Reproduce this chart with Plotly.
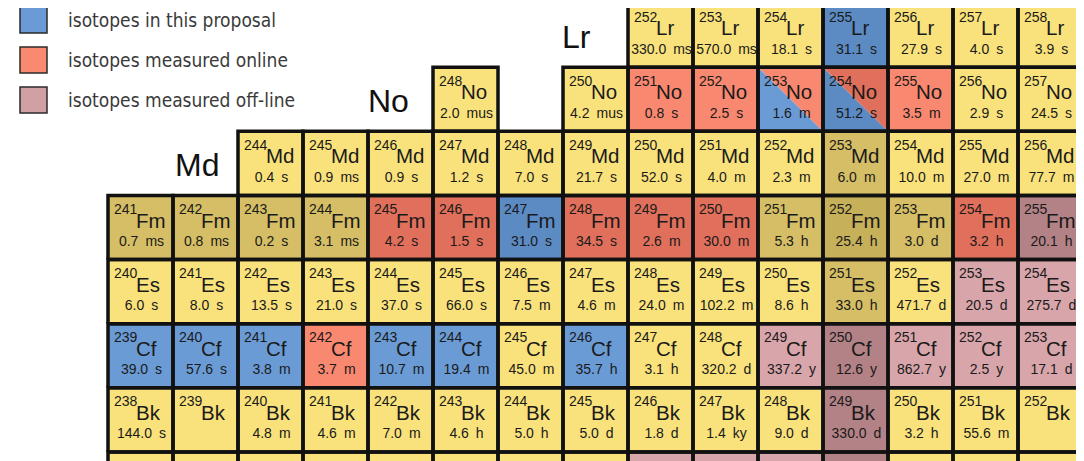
import plotly.graph_objects as go

# chart of nuclides: column = neutron number N, row = proton number Z
# kinds: known, known_dark, proposal, proposal_dark, online, online_dark,
#        offline, offline_dark, and "a/b" for split cells
lr_z = 103
lr_mass = [252, 253, 254, 255, 256, 257, 258]
lr_half = ["330.0 ms", "570.0 ms", "18.1 s", "31.1 s", "27.9 s", "4.0 s", "3.9 s"]
lr_kind = ["known", "known", "known", "proposal_dark", "known", "known", "known"]

no_z = 102
no_mass = [248, 250, 251, 252, 253, 254, 255, 256, 257]
no_half = ["2.0 mus", "4.2 mus", "0.8 s", "2.5 s", "1.6 m", "51.2 s", "3.5 m", "2.9 s", "24.5 s"]
no_kind = ["known", "known", "online", "online", "proposal/online",
           "proposal_dark/online_dark", "online", "known", "known"]

md_z = 101
md_mass = list(range(244, 257))
md_half = ["0.4 s", "0.9 ms", "0.9 s", "1.2 s", "7.0 s", "21.7 s", "52.0 s",
           "4.0 m", "2.3 m", "6.0 m", "10.0 m", "27.0 m", "77.7 m"]
md_kind = ["known"] * 9 + ["known_dark"] + ["known"] * 3

fm_z = 100
fm_mass = list(range(241, 256))
fm_half = ["0.7 ms", "0.8 ms", "0.2 s", "3.1 ms", "4.2 s", "1.5 s", "31.0 s", "34.5 s",
           "2.6 m", "30.0 m", "5.3 h", "25.4 h", "3.0 d", "3.2 h", "20.1 h"]
fm_kind = ["known_dark"] * 4 + ["online_dark"] * 2 + ["proposal_dark"] + ["online_dark"] * 3 \
    + ["known_dark", "known_darker", "known_dark", "online_dark", "offline_dark"]

es_z = 99
es_mass = list(range(240, 255))
es_half = ["6.0 s", "8.0 s", "13.5 s", "21.0 s", "37.0 s", "66.0 s", "7.5 m", "4.6 m",
           "24.0 m", "102.2 m", "8.6 h", "33.0 h", "471.7 d", "20.5 d", "275.7 d"]
es_kind = ["known"] * 11 + ["known_dark", "known", "offline", "offline"]

cf_z = 98
cf_mass = list(range(239, 254))
cf_half = ["39.0 s", "57.6 s", "3.8 m", "3.7 m", "10.7 m", "19.4 m", "45.0 m", "35.7 h",
           "3.1 h", "320.2 d", "337.2 y", "12.6 y", "862.7 y", "2.5 y", "17.1 d"]
cf_kind = ["proposal"] * 3 + ["online"] + ["proposal"] * 2 + ["known", "proposal"] \
    + ["known"] * 2 + ["offline", "offline_dark", "offline", "offline", "offline"]

bk_z = 97
bk_mass = list(range(238, 253))
bk_half = ["144.0 s", "", "4.8 m", "4.6 m", "7.0 m", "4.6 h", "5.0 h", "5.0 d",
           "1.8 d", "1.4 ky", "9.0 d", "330.0 d", "3.2 h", "55.6 m", ""]
bk_kind = ["known"] * 11 + ["offline_dark"] + ["known"] * 3

# only the top edge of the Cm row is visible, so no labels for it
cm_z = 96
cm_mass = list(range(237, 252))
cm_half = [""] * 15
cm_kind = ["known"] * 8 + ["offline"] * 3 + ["offline_dark"] + ["known"] * 3

rows = [
    ("Lr", lr_z, lr_mass, lr_half, lr_kind, True),
    ("No", no_z, no_mass, no_half, no_kind, True),
    ("Md", md_z, md_mass, md_half, md_kind, True),
    ("Fm", fm_z, fm_mass, fm_half, fm_kind, True),
    ("Es", es_z, es_mass, es_half, es_kind, True),
    ("Cf", cf_z, cf_mass, cf_half, cf_kind, True),
    ("Bk", bk_z, bk_mass, bk_half, bk_kind, True),
    ("Cm", cm_z, cm_mass, cm_half, cm_kind, False),
]
row_titles = ["Lr", "No", "Md"]
title_shift = {"Lr": -1.285, "No": -1.18, "Md": -1.13}

legend_kinds = ["proposal", "online", "offline"]
legend_labels = ["isotopes in this proposal", "isotopes measured online",
                 "isotopes measured off-line"]

colors = {
    "known": "#F9E27C",
    "known_dark": "#D5BE65",
    "known_darker": "#C7B05A",
    "proposal": "#6B9BD5",
    "proposal_dark": "#5C8BC4",
    "online": "#F98870",
    "online_dark": "#E0705B",
    "offline": "#D8A5AA",
    "offline_dark": "#B38286",
}
legend_colors = {"proposal": "#6A9BD6", "online": "#F98A70", "offline": "#D1A0A4"}

PX_X = 65.0   # pixels per neutron
PX_Y = 64.14  # pixels per proton
OFF = 8       # page body margin around the plot
W, H = 1084, 461

fills = {k: ([], []) for k in colors}
bx, by = [], []
ms_x, ms_y, ms_t = [], [], []
sy_x, sy_y, sy_t = [], [], []
hl_x, hl_y, hl_t = [], [], []

for sym, z, masses, halves, kinds, labelled in rows:
    for a, hl, kind in zip(masses, halves, kinds):
        n = a - z
        x0, x1, y0, y1 = n - 0.5, n + 0.5, z - 0.5, z + 0.5
        if "/" in kind:
            lower, upper = kind.split("/")
            fx, fy = fills[lower]
            fx += [x0, x0, x1, x0, None]
            fy += [y1, y0, y0, y1, None]
            fx, fy = fills[upper]
            fx += [x0, x1, x1, x0, None]
            fy += [y1, y1, y0, y1, None]
        else:
            fx, fy = fills[kind]
            fx += [x0, x1, x1, x0, x0, None]
            fy += [y0, y0, y1, y1, y0, None]
        bx += [x0, x1, x1, x0, x0, None]
        by += [y0, y0, y1, y1, y0, None]
        if not labelled:
            continue
        ms_x.append(x0 + 6 / PX_X)
        ms_y.append(y1 - 15 / PX_Y)
        ms_t.append(str(a))
        sy_x.append(x0 + 28 / PX_X)
        sy_y.append(y1 - 27 / PX_Y)
        sy_t.append(sym)
        if hl:
            hl_x.append(n + 1 / PX_X)
            hl_y.append(y1 - 47 / PX_Y)
            hl_t.append(hl.replace(" ", "\u2002"))

fig = go.Figure()
for kind, (fx, fy) in fills.items():
    if fx:
        fig.add_trace(go.Scatter(
            x=fx, y=fy, mode="lines", fill="toself", fillcolor=colors[kind],
            line=dict(width=0), hoverinfo="skip",
        ))
fig.add_trace(go.Scatter(
    x=bx, y=by, mode="lines", line=dict(color="#111111", width=3.5), hoverinfo="skip",
))
cell_font = "Liberation Sans, Arial"
fig.add_trace(go.Scatter(
    x=ms_x, y=ms_y, mode="text", text=ms_t, textposition="middle right",
    textfont=dict(family=cell_font, size=14, color="#1a1a1a"), hoverinfo="skip",
))
fig.add_trace(go.Scatter(
    x=sy_x, y=sy_y, mode="text", text=sy_t, textposition="middle right",
    textfont=dict(family=cell_font, size=20.5, color="#1a1a1a"), hoverinfo="skip",
))
fig.add_trace(go.Scatter(
    x=hl_x, y=hl_y, mode="text", text=hl_t, textposition="middle center",
    textfont=dict(family=cell_font, size=14, color="#1a1a1a"), hoverinfo="skip",
))

# element titles to the left of each of the top rows
for sym, z, masses, halves, kinds, labelled in rows:
    if sym in row_titles:
        fig.add_annotation(
            x=masses[0] - z + title_shift[sym], y=z - 2 / PX_Y, text=sym, showarrow=False,
            xanchor="center", yanchor="middle",
            font=dict(family=cell_font, size=32, color="#111111"),
        )

# legend (positions in page pixels)
for i, (kind, label) in enumerate(zip(legend_kinds, legend_labels)):
    cy = 20 + 40 * i
    fig.add_shape(
        type="rect", xref="paper", yref="paper",
        x0=(20 - OFF) / W, x1=(47 - OFF) / W,
        y0=1 - (cy + 13 - OFF) / H, y1=1 - (cy - 13 - OFF) / H,
        fillcolor=legend_colors[kind], line=dict(color="#2a2a2a", width=1.5),
    )
    fig.add_annotation(
        xref="paper", yref="paper", x=(66 - OFF) / W, y=1 - (cy - OFF) / H,
        xanchor="left", yanchor="middle", text=label, showarrow=False,
        font=dict(family="DejaVu Sans Condensed, DejaVu Sans", size=19, color="#3a3a3a"),
    )

fig.update_layout(
    width=W, height=H, margin=dict(l=0, r=0, t=0, b=0),
    paper_bgcolor="white", plot_bgcolor="white", showlegend=False,
    xaxis=dict(range=[140.5 - (108 - OFF) / PX_X, 140.5 + (W + OFF - 108) / PX_X],
               visible=False),
    yaxis=dict(range=[96.5 - (H + OFF - 452) / PX_Y, 96.5 + (452 - OFF) / PX_Y],
               visible=False),
)
fig.write_html("out.html")
